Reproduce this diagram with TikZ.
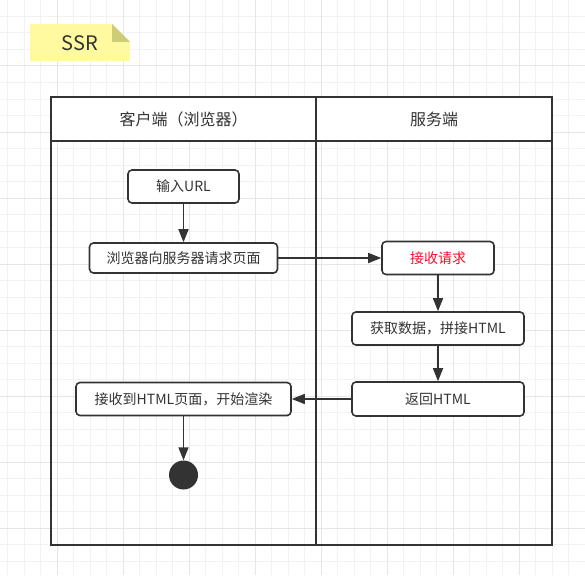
\documentclass[tikz,border=0pt]{standalone}
\usepackage{fontspec}
\setmainfont{Noto Sans CJK SC}
\usetikzlibrary{arrows.meta}
\definecolor{linegray}{HTML}{333333}
\definecolor{gridminor}{HTML}{F2F2F2}
\definecolor{gridmajor}{HTML}{E6E6E6}
\definecolor{notefill}{HTML}{FFFAA0}
\definecolor{foldfill}{HTML}{CDCD78}
\definecolor{reqred}{HTML}{FF0A2A}

\begin{document}
\begin{tikzpicture}[x=1pt,y=-1pt]
\tikzstyle{every node}+=[inner sep=0pt, text=linegray]
\tikzstyle{stepbox}=[draw=linegray, line width=1.6pt, rounded corners=4pt, fill=white, font=\fontsize{14}{16}\selectfont]
\tikzstyle{flow}=[draw=linegray, line width=1.6pt, -{Triangle[length=13pt,width=10pt]}]
\tikzstyle{lane}=[draw=linegray, line width=1.8pt]
\useasboundingbox (0,0) rectangle (585,575);
\fill [white] (0,0) rectangle (585,575);
% grid
\foreach \k in {1,...,36} \draw [gridminor, line width=1pt] ({-9+16.5*\k},0) -- ({-9+16.5*\k},575);
\foreach \k in {0,...,34} \draw [gridminor, line width=1pt] (0,{16.5*\k}) -- (585,{16.5*\k});
\foreach \k in {0,...,8} \draw [gridmajor, line width=1pt] ({57+66*\k},0) -- ({57+66*\k},575);
\foreach \k in {0,...,8} \draw [gridmajor, line width=1pt] (0,{66*\k}) -- (585,{66*\k});
% note
\fill [notefill] (30,24) -- (112,24) -- (130,42) -- (130,61) -- (30,61) -- cycle;
\fill [foldfill] (112,24) -- (130,42) -- (112,42) -- cycle;
\node (ssr) at (80,43) {\fontsize{20}{24}\selectfont SSR};
% swimlanes
\fill [white] (51,97) rectangle (552,141);
\draw [lane] (51,97) rectangle (552,545);
\draw [lane] (51,141) -- (552,141);
\draw [lane] (316,97) -- (316,545);
\node (client) at (183.5,119) {\fontsize{16}{19}\selectfont 客户端（浏览器）};
\node (server) at (434,119) {\fontsize{16}{19}\selectfont 服务端};
% steps
\node [stepbox, minimum width=111pt, minimum height=33pt] (url) at (183.5,186.5) {输入URL};
\node [stepbox, minimum width=188pt, minimum height=30pt] (req) at (183.5,258) {浏览器向服务器请求页面};
\node [stepbox, minimum width=112pt, minimum height=33pt, text=reqred] (recv) at (438,258) {接收请求};
\node [stepbox, minimum width=172pt, minimum height=33pt] (fetch) at (438,328.5) {获取数据，拼接HTML};
\node [stepbox, minimum width=172pt, minimum height=34pt] (ret) at (438,399) {返回HTML};
\node [stepbox, minimum width=215pt, minimum height=33pt] (render) at (183.5,399) {接收到HTML页面，开始渲染};
\node [circle, fill=linegray, minimum size=29pt] (done) at (183.5,475) {};
% arrows
\draw [flow] (url) -- (req);
\draw [flow] (req) -- (recv);
\draw [flow] (recv) -- (fetch);
\draw [flow] (fetch) -- (ret);
\draw [flow] (ret) -- (render);
\draw [flow] (render) -- (done);
\end{tikzpicture}
\end{document}
